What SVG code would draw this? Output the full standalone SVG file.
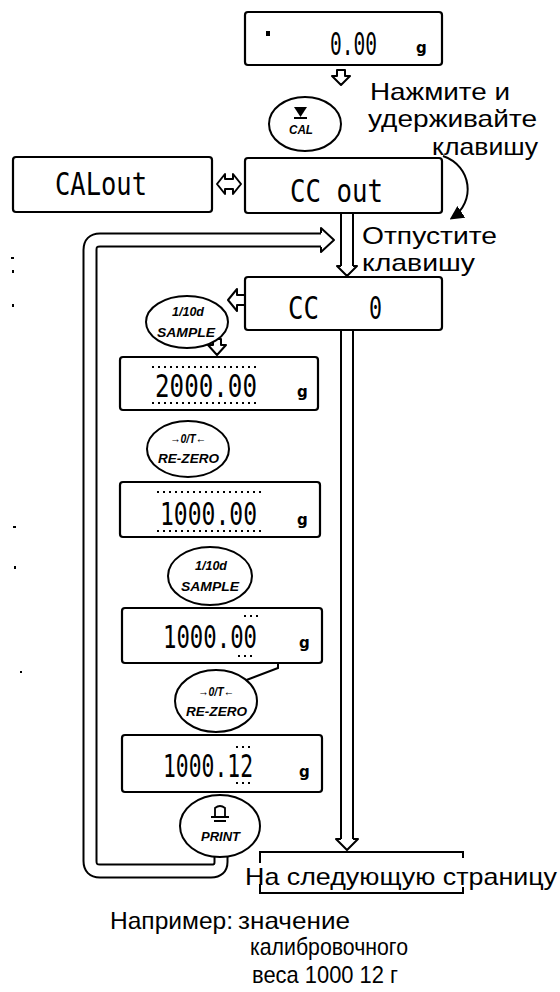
<svg xmlns="http://www.w3.org/2000/svg" width="560" height="992" viewBox="0 0 560 992">
<style>
.disp{fill:#fff;stroke:#000;stroke-width:2.2}
.lcd{font-family:"DejaVu Sans Mono","Liberation Mono",monospace;font-size:32px;fill:#000}
.unit{font-family:"DejaVu Sans","Liberation Sans",sans-serif;font-size:15px;font-weight:bold;fill:#000}
.lbl{font-family:"Liberation Sans","Noto Sans",Arial,sans-serif;font-size:24px;fill:#000}
.key{fill:#fff;stroke:#000;stroke-width:2}
.kt{font-family:"Liberation Sans",Arial,sans-serif;font-size:13px;font-weight:bold;font-style:italic;fill:#000}
.hollow{fill:#fff;stroke:#000;stroke-width:2;stroke-linejoin:round}
.dbl-o{fill:none;stroke:#000;stroke-width:15}
.dbl-i{fill:none;stroke:#fff;stroke-width:11}
.line{fill:none;stroke:#000;stroke-width:2}
.tick{stroke:#000;stroke-width:2;stroke-dasharray:2 4}
</style>
<defs>
<marker id="ah" viewBox="0 0 10 10" refX="8" refY="5" markerWidth="7" markerHeight="7" orient="auto">
<path d="M0 0 L10 5 L0 10 z" fill="#000"/>
</marker>
</defs>
<rect width="560" height="992" fill="#fff"/>

<g id="connectors">
<path class="dbl-o" d="M221 857 L221 862 Q221 871 211 871 L100 871 Q90 871 90 861 L90 250 Q90 240 100 240 L322 240"/>
<path class="dbl-i" d="M221 857 L221 862 Q221 871 211 871 L100 871 Q90 871 90 861 L90 250 Q90 240 100 240 L322 240"/>
<polyline class="hollow" points="321,233 321,228 334,240 321,252 321,247"/>
<path class="dbl-o" d="M347 213 L347 267" style="stroke-width:14"/>
<path class="dbl-i" d="M347 213 L347 267" style="stroke-width:10"/>
<polyline class="hollow" points="341,266 337,266 347,276 357,266 353,266"/>
<path class="dbl-o" d="M347 330 L347 840" style="stroke-width:14"/>
<path class="dbl-i" d="M347 330 L347 840" style="stroke-width:10"/>
<polyline class="hollow" points="341,839 336,839 347,850 358,839 353,839"/>
<polygon class="hollow" points="337,70 345,70 345,76 350,76 341,85 332,76 337,76"/>
<polygon class="hollow" points="217,184 225,174 225,179 233,179 233,174 241,184 233,194 233,189 225,189 225,194"/>
<path class="line" d="M443 156 C472 166 476 202 452 218" marker-end="url(#ah)"/>
<polygon class="hollow" points="246,295 237,295 237,289 228,300 237,311 237,305 246,305"/>
<polygon class="hollow" points="213,339 221,339 221,345 226,345 217,355 208,345 213,345"/>
<path class="line" d="M265 653 L265 640 L278 640 L278 668 L236 684"/>
<path class="line" d="M260 863 L260 852 L463 852 L463 858"/>
<path class="line" d="M260 884 L260 893 L463 893 L463 887"/>
</g>

<g id="disp-top">
<rect class="disp" x="245" y="12" width="197" height="53" rx="3"/>
<rect x="266" y="31" width="4" height="5" fill="#000"/>
<text class="lcd" x="330" y="55" textLength="47" lengthAdjust="spacingAndGlyphs">0.00</text>
<text class="unit" x="416" y="53">g</text>
</g>

<g id="key-cal">
<ellipse class="key" cx="305" cy="124" rx="36" ry="27"/>
<polygon points="294,107 307,107 300.5,117" fill="#000"/>
<rect x="294" y="117" width="13" height="2" fill="#000"/>
<text class="kt" x="289" y="134" textLength="24" lengthAdjust="spacingAndGlyphs">CAL</text>
</g>

<g id="disp-calout">
<rect class="disp" x="13" y="157" width="199" height="55" rx="3"/>
<text class="lcd" x="55" y="195" textLength="92" lengthAdjust="spacingAndGlyphs">CALout</text>
</g>

<g id="disp-ccout">
<rect class="disp" x="245" y="158" width="197" height="55" rx="3"/>
<text class="lcd" x="290" y="202" textLength="93" lengthAdjust="spacingAndGlyphs">CC out</text>
</g>

<g id="disp-cc0">
<rect class="disp" x="245" y="277" width="197" height="53" rx="3"/>
<text class="lcd" x="288" y="319" textLength="31" lengthAdjust="spacingAndGlyphs">CC</text>
<text class="lcd" x="369" y="319" textLength="13" lengthAdjust="spacingAndGlyphs">0</text>
</g>

<g id="key-sample1">
<ellipse class="key" cx="187" cy="322" rx="41" ry="26"/>
<text class="kt" x="172" y="316" textLength="32" lengthAdjust="spacingAndGlyphs">1/10d</text>
<text class="kt" x="157" y="337" textLength="58" lengthAdjust="spacingAndGlyphs">SAMPLE</text>
</g>

<g id="disp-2000">
<rect class="disp" x="120" y="357" width="198" height="53" rx="3"/>
<line class="tick" x1="152" y1="367" x2="260" y2="367"/>
<line class="tick" x1="152" y1="403" x2="260" y2="403"/>
<text class="lcd" x="155" y="397" textLength="102" lengthAdjust="spacingAndGlyphs">2000.00</text>
<text class="unit" x="297" y="397">g</text>
</g>

<g id="key-rezero1">
<ellipse class="key" cx="188" cy="449" rx="41" ry="28"/>
<text class="kt" x="170" y="443" textLength="36" lengthAdjust="spacingAndGlyphs">→0/T←</text>
<text class="kt" x="158" y="463" textLength="61" lengthAdjust="spacingAndGlyphs">RE-ZERO</text>
</g>

<g id="disp-1000a">
<rect class="disp" x="120" y="482" width="200" height="55" rx="3"/>
<line class="tick" x1="157" y1="492" x2="262" y2="492"/>
<line class="tick" x1="157" y1="531" x2="262" y2="531"/>
<text class="lcd" x="160" y="525" textLength="97" lengthAdjust="spacingAndGlyphs">1000.00</text>
<text class="unit" x="297" y="525">g</text>
</g>

<g id="key-sample2">
<ellipse class="key" cx="210" cy="576" rx="42" ry="29"/>
<text class="kt" x="195" y="570" textLength="32" lengthAdjust="spacingAndGlyphs">1/10d</text>
<text class="kt" x="181" y="591" textLength="58" lengthAdjust="spacingAndGlyphs">SAMPLE</text>
</g>

<g id="disp-1000b">
<rect class="disp" x="122" y="608" width="200" height="55" rx="3"/>
<line class="tick" x1="244" y1="616" x2="258" y2="616"/>
<line class="tick" x1="238" y1="656" x2="256" y2="656"/>
<text class="lcd" x="163" y="648" textLength="94" lengthAdjust="spacingAndGlyphs">1000.00</text>
<text class="unit" x="299" y="648">g</text>
</g>

<g id="key-rezero2">
<ellipse class="key" cx="216" cy="701" rx="41" ry="31"/>
<text class="kt" x="198" y="696" textLength="36" lengthAdjust="spacingAndGlyphs">→0/T←</text>
<text class="kt" x="186" y="716" textLength="61" lengthAdjust="spacingAndGlyphs">RE-ZERO</text>
</g>

<g id="disp-100012">
<rect class="disp" x="122" y="735" width="200" height="57" rx="3"/>
<line class="tick" x1="236" y1="747" x2="252" y2="747"/>
<line class="tick" x1="236" y1="783" x2="252" y2="783"/>
<text class="lcd" x="163" y="777" textLength="90" lengthAdjust="spacingAndGlyphs">1000.12</text>
<text class="unit" x="299" y="777">g</text>
</g>

<g id="key-print">
<ellipse class="key" cx="220" cy="826" rx="40" ry="31"/>
<path d="M215 817 L215 808 Q220 804 225 808 L225 817 M211 817 L229 817 M214 821 L226 821" class="line" style="stroke-width:1.8"/>
<text class="kt" x="201" y="841" textLength="39" lengthAdjust="spacingAndGlyphs">PRINT</text>
</g>

<g id="labels">
<text class="lbl" x="370" y="100" textLength="140" lengthAdjust="spacingAndGlyphs">Нажмите и</text>
<text class="lbl" x="368" y="127" textLength="169" lengthAdjust="spacingAndGlyphs">удерживайте</text>
<text class="lbl" x="432" y="155" textLength="106" lengthAdjust="spacingAndGlyphs">клавишу</text>
<text class="lbl" x="362" y="244" textLength="135" lengthAdjust="spacingAndGlyphs">Отпустите</text>
<text class="lbl" x="362" y="271" textLength="113" lengthAdjust="spacingAndGlyphs">клавишу</text>
<text class="lbl" x="245" y="885" textLength="312" lengthAdjust="spacingAndGlyphs">На следующую  страницу</text>
<text class="lbl" x="110" y="929" textLength="123" lengthAdjust="spacingAndGlyphs">Например:</text>
<text class="lbl" x="238" y="929" textLength="112" lengthAdjust="spacingAndGlyphs">значение</text>
<text class="lbl" x="250" y="955" textLength="158" lengthAdjust="spacingAndGlyphs">калибровочного</text>
<text class="lbl" x="252" y="983" textLength="146" lengthAdjust="spacingAndGlyphs">веса  1000 12 г</text>
</g>

<g id="specks" fill="#000">
<rect x="11" y="257" width="3" height="2"/>
<rect x="12" y="270" width="2" height="3"/>
<rect x="12" y="304" width="2" height="3"/>
<rect x="13" y="526" width="3" height="2"/>
<rect x="14" y="566" width="2" height="3"/>
<rect x="20" y="671" width="2" height="2"/>
</g>
</svg>
